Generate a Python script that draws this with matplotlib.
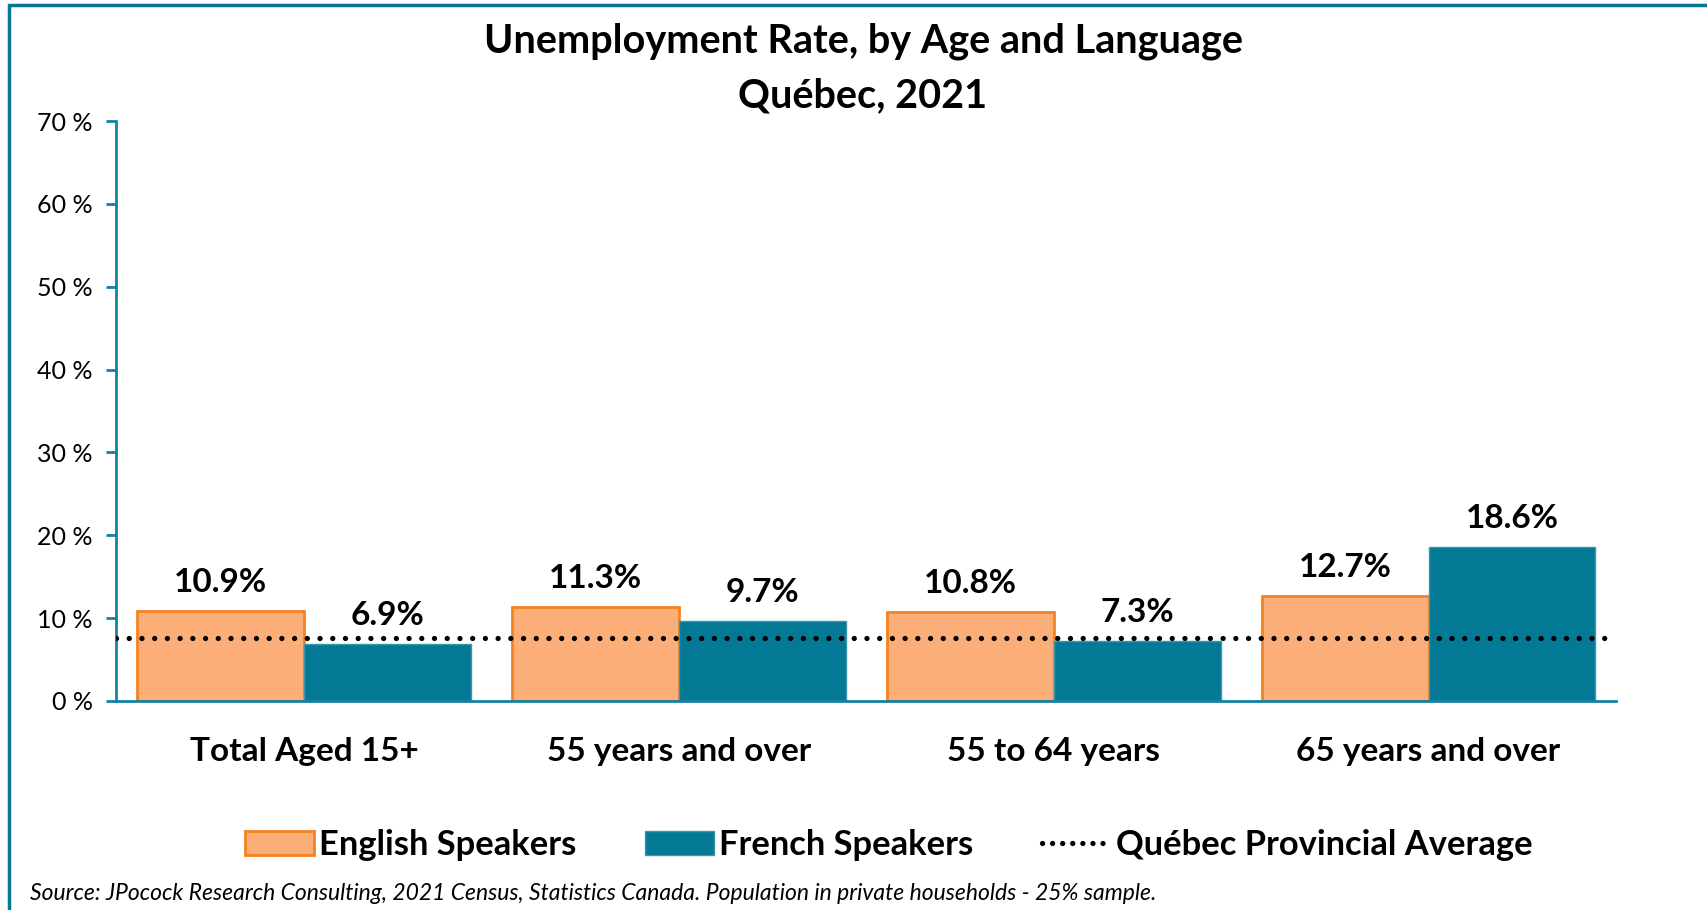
import matplotlib.pyplot as plt
from matplotlib.patches import Patch, Rectangle
from matplotlib.lines import Line2D
import numpy as np

plt.rcParams['font.family'] = ['Lato', 'DejaVu Sans']

# data
categories = ["Total Aged 15+", "55 years and over", "55 to 64 years", "65 years and over"]
english = [10.9, 11.3, 10.8, 12.7]
french = [6.9, 9.7, 7.3, 18.6]
quebec_avg = 7.6
yticks = [0, 10, 20, 30, 40, 50, 60, 70]

orange_fill = "#FBAE78"
orange_edge = "#F58220"
teal = "#037995"
axis_col = "#1482A3"

fig = plt.figure(figsize=(17.07, 9.10), dpi=100)
W, H = 1707, 910
ax = fig.add_axes([116.5 / W, 1 - 701 / H, (1616 - 116.5) / W, (701 - 121) / H])

x = np.arange(len(categories))
bw = 0.445
b1 = ax.bar(x - bw / 2, english, bw, color=orange_fill, edgecolor=orange_edge, linewidth=2)
b2 = ax.bar(x + bw / 2, french, bw, color=teal, edgecolor="#3F97AE", linewidth=1)

ax.axhline(quebec_avg, xmin=0, xmax=0.993, color="black", linewidth=3.8,
           linestyle=(0, (0.01, 2.4)), dash_capstyle="round", zorder=3)

for bars, vals in ((b1, english), (b2, french)):
    for r, v in zip(bars, vals):
        ax.annotate(f"{v}%", (r.get_x() + r.get_width() / 2, v), xytext=(0, 10),
                    textcoords="offset points", ha="center", va="bottom",
                    fontsize=24, fontweight="bold")

ax.set_xlim(-0.5, 3.5)
ax.set_ylim(0, 70)
ax.set_yticks(yticks)
ax.set_yticklabels([f"{t} %" for t in yticks], fontsize=18)
ax.set_xticks(x)
ax.set_xticklabels(categories, fontsize=24, fontweight="bold")
ax.tick_params(axis="x", length=0, pad=26)
ax.tick_params(axis="y", length=7, width=2, color=axis_col, pad=10)
for s in ("top", "right"):
    ax.spines[s].set_visible(False)
for s in ("left", "bottom"):
    ax.spines[s].set_color(axis_col)
    ax.spines[s].set_linewidth(2)

fig.text(863 / W, 1 - 41 / H, "Unemployment Rate, by Age and Language", ha="center",
         va="center", fontsize=28.5, fontweight="bold")
fig.text(863 / W, 1 - 96 / H, "Québec, 2021", ha="center", va="center",
         fontsize=28.5, fontweight="bold")

handles = [Patch(facecolor=orange_fill, edgecolor=orange_edge, linewidth=2),
           Patch(facecolor=teal, edgecolor="#3F97AE"),
           Line2D([0], [0], color="black", linewidth=3.8, linestyle=(0, (0.01, 1.9)),
                  dash_capstyle="round")]
fig.legend(handles, ["English Speakers", "French Speakers", "Québec Provincial Average"],
           loc="center", bbox_to_anchor=(889 / W, 1 - 845 / H), ncol=3, frameon=False,
           prop={"size": 24.8, "weight": "bold"}, handlelength=2.0, handletextpad=0.15,
           columnspacing=2.0)

fig.text(30 / W, 1 - 893 / H,
         "Source: JPocock Research Consulting, 2021 Census, Statistics Canada. Population in private households - 25% sample.",
         ha="left", va="center", fontsize=16.5, style="italic")

# frame (top and left edges visible)
fig.patches.append(Rectangle((9 / W, -0.1), 1.2, 1 - 5 / H + 0.1, transform=fig.transFigure,
                             fill=False, edgecolor=teal, linewidth=2.5))

fig.savefig("out.png", dpi=100)
